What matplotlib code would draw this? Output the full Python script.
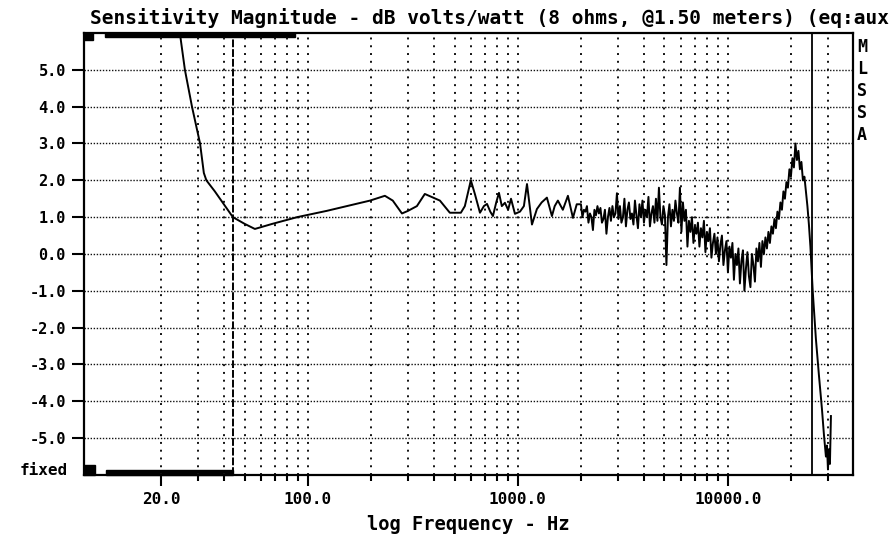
import matplotlib
matplotlib.use("Agg")
import matplotlib.pyplot as plt
from matplotlib.patches import Rectangle
from matplotlib.ticker import FixedLocator, FixedFormatter, NullFormatter

#%% --- Data ---

# low end: steep roll-off, dip near 56 Hz, gentle rise (Hz, dB)
low_freq = [23.0, 24.6, 26.0, 28.1, 30.7, 32.0, 32.9, 36.1, 40.4, 44.0,
            50.0, 56.0, 68.0, 89.0, 123.0, 198.0, 233.0, 254.0, 281.0,
            300.0, 331.0, 361.0, 426.0, 475.0, 519.0, 536.0]
low_db = [6.8, 6.0, 5.0, 4.0, 3.0, 2.2, 2.0, 1.7, 1.3, 1.0,
          0.82, 0.68, 0.82, 1.0, 1.17, 1.45, 1.58, 1.45, 1.1,
          1.17, 1.3, 1.63, 1.45, 1.12, 1.12, 1.12]

# midrange ripple 560 Hz - 2 kHz
mid_freq = [560, 598, 625, 661, 690, 714, 740, 762, 790, 814, 840, 869,
            900, 929, 970, 1025, 1070, 1107, 1169, 1234, 1300, 1377, 1455,
            1500, 1553, 1640, 1734, 1832, 1910]
mid_db = [1.3, 2.0, 1.63, 1.12, 1.3, 1.36, 1.15, 1.03, 1.4, 1.66, 1.3, 1.39,
          1.2, 1.5, 1.09, 1.15, 1.3, 1.9, 0.8, 1.22, 1.4, 1.53, 1.03,
          1.3, 1.45, 1.2, 1.58, 0.98, 1.35]

# noisy treble region 2 kHz - 25 kHz
hi_freq = [2000, 2033, 2067, 2101, 2136, 2172, 2208, 2244, 2281, 2319,
           2358, 2397, 2436, 2477, 2518, 2560, 2602, 2645, 2689, 2734,
           2779, 2825, 2872, 2920, 2968, 3017, 3067, 3118, 3170, 3222,
           3276, 3330, 3385, 3442, 3499, 3557, 3616, 3676, 3737, 3799,
           3862, 3926, 3991, 4057, 4124, 4193, 4262, 4333, 4405, 4478,
           4552, 4627, 4704, 4782, 4861, 4942, 5024, 5107, 5192, 5278,
           5366, 5455, 5545, 5637, 5730, 5825, 5922, 6020, 6120, 6222,
           6325, 6430, 6536, 6645, 6755, 6867, 6981, 7096, 7214, 7334,
           7455, 7579, 7705, 7832, 7962, 8094, 8229, 8365, 8504, 8645,
           8788, 8934, 9082, 9233, 9386, 9542, 9700, 9861, 10024, 10190,
           10359, 10531, 10705, 10883, 11063, 11247, 11433, 11623, 11816, 12012,
           12211, 12413, 12619, 12829, 13041, 13258, 13478, 13701, 13928, 14159,
           14394, 14633, 14875, 15122, 15373, 15628, 15887, 16150, 16418, 16691,
           16967, 17249, 17535, 17826, 18121, 18422, 18727, 19038, 19353, 19674,
           20000, 20332, 20669, 21012, 21360, 21715, 22075, 22441, 22813, 23191,
           23576, 23967, 24364, 24768, 25179]
hi_db = [1.35, 1.0, 1.2, 1.15, 1.3, 0.85, 1.1, 1.0, 0.65, 1.2,
         1.05, 1.3, 1.1, 1.25, 0.85, 0.95, 1.2, 0.55, 1.0, 1.25,
         0.9, 1.3, 1.0, 1.1, 1.65, 0.95, 1.3, 0.85, 1.0, 1.5,
         0.75, 1.2, 1.4, 0.95, 1.1, 0.8, 1.45, 1.05, 0.7, 1.35,
         1.0, 1.45, 0.85, 1.2, 1.0, 1.55, 0.75, 1.1, 1.3, 0.85,
         1.5, 0.9, 1.8, 1.0, 0.8, 1.3, 1.05, -0.3, 1.0, 1.35,
         0.75, 1.2, 0.9, 1.45, 1.1, 0.85, 1.8, 0.6, 1.4, 0.9,
         1.2, 0.2, 0.9, 0.6, 1.0, 0.3, 0.75, 0.55, 0.85, 0.2,
         0.7, 0.45, 0.9, 0.05, 0.6, 0.35, 0.7, -0.1, 0.3, 0.55,
         0.0, 0.45, -0.2, 0.25, 0.5, -0.3, 0.1, 0.35, -0.5, 0.2,
         -0.1, 0.3, -0.7, 0.0, -0.3, 0.15, -0.8, -0.2, 0.1, -1.0,
         -0.4, 0.05, -0.6, -0.9, 0.0, -0.3, -0.75, 0.15, -0.2, 0.3,
         -0.35, 0.35, 0.0, 0.45, 0.15, 0.6, 0.3, 0.75, 0.55, 0.95,
         0.7, 1.15, 0.95, 1.4, 1.2, 1.7, 1.5, 1.95, 1.8, 2.3,
         2.1, 2.6, 2.35, 3.0, 2.55, 2.8, 2.3, 2.5, 2.0, 2.1,
         1.7, 1.3, 0.8, 0.2, -0.6]

# final roll-off above 25 kHz
roll_freq = [25400, 26300, 27200, 28100, 28720, 29360, 29700, 30020,
             30350, 30680, 31020]
roll_db = [-1.0, -2.3, -3.3, -4.2, -4.9, -5.5, -5.2, -5.85,
           -5.3, -5.7, -4.4]

# axis ticks / grid
major_freq = [20, 100, 1000, 10000]
major_labels = ["20.0", "100.0", "1000.0", "10000.0"]
minor_freq = [30, 40, 50, 60, 70, 80, 90,
              200, 300, 400, 500, 600, 700, 800, 900,
              2000, 3000, 4000, 5000, 6000, 7000, 8000, 9000,
              20000, 30000]
db_ticks = [5, 4, 3, 2, 1, 0, -1, -2, -3, -4, -5]
db_labels = ["5.0", "4.0", "3.0", "2.0", "1.0", "0.0",
             "-1.0", "-2.0", "-3.0", "-4.0", "-5.0"]

# cursor markers
cursor_freq = [44.0, 25200.0]

side_letters = ["M", "L", "S", "S", "A"]

#%% --- Plot ---

plt.rcParams["font.family"] = ["DejaVu Sans Mono"]
plt.rcParams["font.weight"] = "bold"

fig = plt.figure(figsize=(8.90, 5.40), dpi=100)
ax = fig.add_axes([0.0944, 0.1204, 0.8640, 0.8185])

freq = low_freq + mid_freq + hi_freq + roll_freq
db = low_db + mid_db + hi_db + roll_db
ax.plot(freq, db, color="black", lw=1.4)

ax.set_xscale("log")
ax.set_xlim(8.6, 39500)
ax.set_ylim(-6, 6)

# --- ticks ---
ax.xaxis.set_major_locator(FixedLocator(major_freq))
ax.xaxis.set_major_formatter(FixedFormatter(major_labels))
ax.xaxis.set_minor_locator(FixedLocator(minor_freq))
ax.xaxis.set_minor_formatter(NullFormatter())
ax.yaxis.set_major_locator(FixedLocator(db_ticks))
ax.yaxis.set_major_formatter(FixedFormatter(db_labels))
ax.yaxis.set_minor_locator(FixedLocator([]))

ax.tick_params(axis="x", which="major", length=8, width=1.5,
               labelsize=11.5, pad=4, color="black")
ax.tick_params(axis="x", which="minor", length=4, width=1.5, color="black")
ax.tick_params(axis="y", which="major", length=9, width=1.5,
               labelsize=11, pad=4, color="black")

# --- grid ---
ax.grid(axis="y", which="major", color="#111111",
        linestyle=(0, (1, 1.2)), lw=1.0)
ax.grid(axis="x", which="both", color="#111111",
        linestyle=(0, (1, 3)), lw=1.4)

for spine in ax.spines.values():
    spine.set_linewidth(1.6)
    spine.set_color("black")

# --- cursors ---
ax.axvline(cursor_freq[0], color="black", lw=1.4, linestyle=(0, (4, 1)))
ax.axvline(cursor_freq[1], color="black", lw=1.3)

# --- band markers on top and bottom edges ---
ax.add_patch(Rectangle((0.0, 0.984), 0.012, 0.016, transform=ax.transAxes,
                       color="black", clip_on=False))
ax.add_patch(Rectangle((0.027, 0.991), 0.247, 0.009, transform=ax.transAxes,
                       color="black", clip_on=False))
ax.add_patch(Rectangle((0.0, 0.0), 0.014, 0.023, transform=ax.transAxes,
                       color="black", clip_on=False))
ax.add_patch(Rectangle((0.029, 0.0), 0.165, 0.011, transform=ax.transAxes,
                       color="black", clip_on=False))

# --- labels ---
ax.set_xlabel("log Frequency - Hz", fontsize=13.5, fontweight="bold",
              labelpad=6)
ax.text(-0.021, 0.011, "fixed", transform=ax.transAxes, ha="right",
        va="center", fontsize=11.5, fontweight="bold")

fig.text(0.101, 0.967,
         "Sensitivity Magnitude - dB volts/watt (8 ohms, @1.50 meters) (eq:aux",
         ha="left", va="center", fontsize=14, fontweight="bold")

for i, letter in enumerate(side_letters):
    fig.text(862 / 890, 1 - (47 + 22 * i) / 540, letter, ha="center",
             va="center", fontsize=12, fontweight="bold")

fig.savefig("out.png", dpi=100)
